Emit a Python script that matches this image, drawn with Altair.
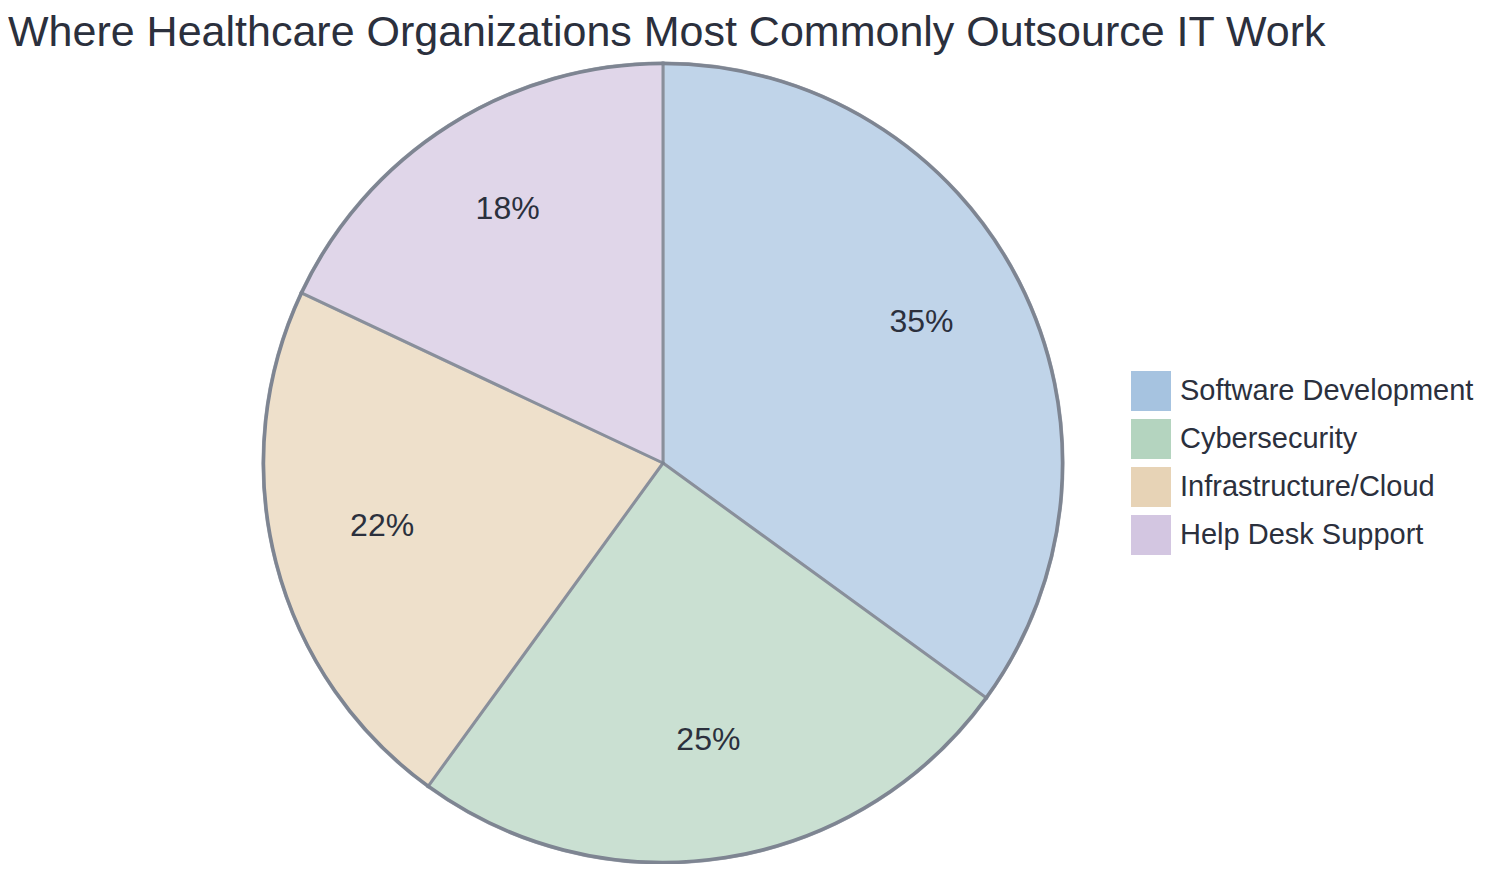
import pandas as pd
import altair as alt

# Data
categories = ['Software Development', 'Cybersecurity', 'Infrastructure/Cloud', 'Help Desk Support']
shares = [35, 25, 22, 18]
labels = ['35%', '25%', '22%', '18%']
colors = ['#a6c3e0', '#b4d4bf', '#e7d3b6', '#d3c6e1']

df = pd.DataFrame({'category': categories, 'share': shares, 'label': labels,
                   'order': list(range(len(categories)))})

FONT = 'Liberation Sans'
TEXT = '#2b303d'
TOP = 57
CX, CY, R = 655, 463 - 8 - TOP, 400

base = alt.Chart(df).encode(
    theta=alt.Theta('share:Q', stack=True),
    order=alt.Order('order:Q'),
)

pie = base.mark_arc(outerRadius=R, stroke='#7e8592', strokeWidth=3, opacity=0.7).encode(
    x=alt.value(CX), y=alt.value(CY),
    color=alt.Color('category:N', sort=categories,
                    scale=alt.Scale(domain=categories, range=colors),
                    legend=alt.Legend(title=None, orient='none', legendX=1123, legendY=306,
                                      symbolType='square', symbolSize=1600, symbolStrokeWidth=0,
                                      symbolOpacity=1, labelFontSize=29, labelFont=FONT,
                                      labelColor=TEXT, rowPadding=8, labelOffset=9,
                                      labelLimit=400)),
)

rim = alt.Chart(df).mark_arc(outerRadius=R, innerRadius=R - 1, fill='#7e8592', stroke='#7e8592',
                             strokeWidth=2.5).encode(
    theta=alt.Theta('share:Q', stack=True),
    order=alt.Order('order:Q'),
    x=alt.value(CX), y=alt.value(CY),
)

text = base.mark_text(radius=290, dy=-9, fontSize=32, font=FONT, color=TEXT).encode(
    x=alt.value(CX), y=alt.value(CY),
    text='label:N',
)

chart = alt.layer(pie, rim, text).properties(
    width=1470,
    height=856 - TOP,
    padding={'left': 0, 'top': TOP, 'right': 0, 'bottom': 0},
    autosize=alt.AutoSizeParams(type='none'),
    title=alt.TitleParams('Where Healthcare Organizations Most Commonly Outsource IT Work',
                          anchor='start', fontSize=43, font=FONT, fontWeight='normal',
                          color=TEXT, offset=2),
).configure_view(stroke=None)

chart.save('out.html', embed_options={'renderer': 'svg', 'actions': False})
